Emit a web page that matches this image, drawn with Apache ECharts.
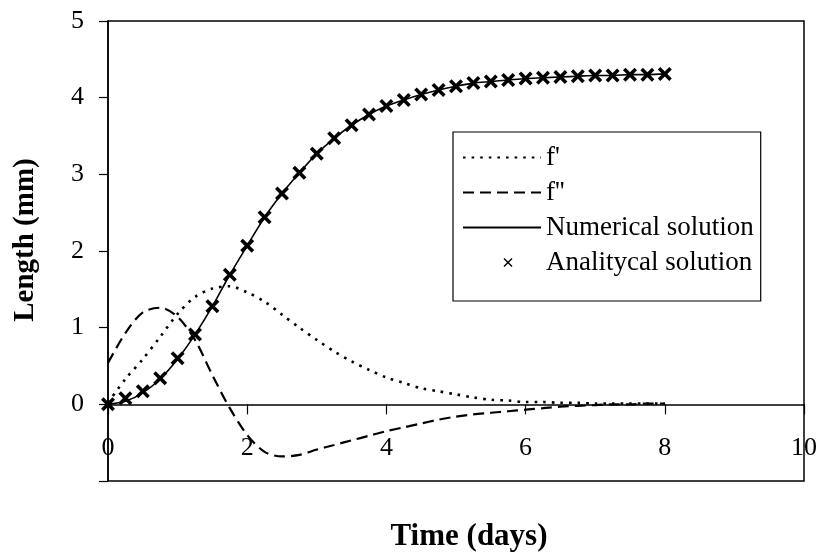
<!DOCTYPE html>
<html>
<head>
<meta charset="utf-8">
<title>Length vs time</title>
<script src="https://cdn.jsdelivr.net/npm/echarts@6/dist/echarts.min.js"></script>
<style>
  html, body { margin: 0; padding: 0; background: #fff; }
  #chart { width: 816px; height: 552px; }
</style>
</head>
<body>
<div id="chart"></div>
<script>
// Time in days, sampled every quarter day
const days = [0, 0.25, 0.5, 0.75, 1, 1.25, 1.5, 1.75, 2, 2.25, 2.5, 2.75, 3, 3.25, 3.5, 3.75,
              4, 4.25, 4.5, 4.75, 5, 5.25, 5.5, 5.75, 6, 6.25, 6.5, 6.75, 7, 7.25, 7.5, 7.75, 8];

// First derivative f'
const fPrime = [0.02, 0.33, 0.59, 0.88, 1.18, 1.40, 1.51, 1.54, 1.46, 1.34, 1.17, 1.00, 0.84, 0.69, 0.56, 0.45,
                0.35, 0.28, 0.21, 0.17, 0.13, 0.09, 0.06, 0.05, 0.03, 0.03, 0.02, 0.02, 0.01, 0.01, 0.01, 0.01, 0.01];

// Second derivative f''
const fSecond = [0.54, 0.93, 1.20, 1.26, 1.14, 0.84, 0.38, -0.05, -0.40, -0.62, -0.68, -0.66, -0.59, -0.53, -0.47, -0.41,
                 -0.35, -0.30, -0.25, -0.20, -0.16, -0.13, -0.11, -0.09, -0.07, -0.05, -0.03, -0.02, -0.01, 0.00, 0.00, 0.01, 0.01];

// Numerical solution (mm)
const numerical = [0.00, 0.04, 0.15, 0.33, 0.59, 0.91, 1.28, 1.69, 2.07, 2.44, 2.75, 3.02, 3.27, 3.47, 3.64, 3.78,
                   3.89, 3.97, 4.04, 4.10, 4.15, 4.19, 4.21, 4.23, 4.25, 4.26, 4.27, 4.28, 4.29, 4.29, 4.30, 4.30, 4.31];

// Analytical solution (mm)
const analytical = [0.00, 0.08, 0.17, 0.34, 0.60, 0.91, 1.28, 1.69, 2.07, 2.44, 2.75, 3.02, 3.27, 3.47, 3.64, 3.78,
                    3.89, 3.97, 4.04, 4.10, 4.15, 4.19, 4.21, 4.23, 4.25, 4.26, 4.27, 4.28, 4.29, 4.29, 4.30, 4.30, 4.31];

const xTicks = [0, 2, 4, 6, 8, 10];
const yTicks = [0, 1, 2, 3, 4, 5];

const pairs = (ys) => days.map((d, i) => [d, ys[i]]);

const FONT = 'Liberation Serif';
const crossSymbol = 'path://M0,1.8 L1.8,0 L5,3.2 L8.2,0 L10,1.8 L6.8,5 L10,8.2 L8.2,10 L5,6.8 L1.8,10 L0,8.2 L3.2,5 Z';
// legend icon: small cross centred in a wide, invisible bounding box
const crossLegendIcon = 'path://M0,0 L0.01,0 Z M78,14 L78.01,14 Z M40.5,3.6 L41.5,2.6 L45,6 L48.5,2.6 L49.5,3.6 L46,7 L49.5,10.4 L48.5,11.4 L45,8 L41.5,11.4 L40.5,10.4 L44,7 Z';

const chart = echarts.init(document.getElementById('chart'), null, { renderer: 'canvas' });

chart.setOption({
  backgroundColor: '#fff',
  animation: false,
  textStyle: { fontFamily: FONT, color: '#000' },
  grid: {
    left: 108, right: 12, top: 21, bottom: 71,
    outerBoundsMode: 'none',
    containLabel: false,
    show: true, borderColor: '#000', borderWidth: 1.5, backgroundColor: 'transparent'
  },
  legend: {
    orient: 'vertical',
    left: 453, top: 132,
    padding: [12, 7, 25, 9],
    itemGap: 8,
    itemWidth: 78, itemHeight: 14,
    borderColor: '#000', borderWidth: 1.2,
    backgroundColor: '#fff',
    textStyle: { fontFamily: FONT, fontSize: 27, color: '#000' },
    data: [
      { name: "f'", itemStyle: { opacity: 0 } },
      { name: "f''", itemStyle: { opacity: 0 } },
      { name: 'Numerical solution', itemStyle: { opacity: 0 } },
      { name: 'Analitycal solution', icon: crossLegendIcon, itemStyle: { color: '#000', opacity: 1 } }
    ]
  },
  xAxis: {
    type: 'value',
    min: 0, max: 10, interval: 2,
    name: 'Time (days)',
    nameLocation: 'middle',
    nameGap: 40,
    nameTextStyle: { fontFamily: FONT, fontSize: 31, fontWeight: 'bold', color: '#000', padding: [0, 0, 0, 26] },
    axisLine: { onZero: true, lineStyle: { color: '#000', width: 1.5 } },
    axisTick: { show: true, inside: false, length: 10, lineStyle: { color: '#000', width: 1.2 } },
    axisLabel: {
      margin: -46, fontFamily: FONT, fontSize: 26, color: '#000',
      formatter: (v) => (xTicks.includes(v) ? String(v) : '')
    },
    splitLine: { show: false }
  },
  yAxis: {
    type: 'value',
    min: -1, max: 5, interval: 1,
    name: 'Length (mm)',
    nameLocation: 'middle',
    nameRotate: 90,
    nameGap: 68,
    nameTextStyle: { fontFamily: FONT, fontSize: 29, fontWeight: 'bold', color: '#000', padding: [0, 0, 0, 22] },
    axisLine: { show: true, onZero: false, lineStyle: { color: '#000', width: 1.5 } },
    axisTick: { show: true, inside: false, length: 9, lineStyle: { color: '#000', width: 1.2 } },
    axisLabel: {
      margin: 24, fontFamily: FONT, fontSize: 26, color: '#000',
      formatter: (v) => (yTicks.includes(v) ? String(v) : '')
    },
    splitLine: { show: false }
  },
  series: [
    {
      name: "f'",
      type: 'line',
      data: pairs(fPrime),
      smooth: 0.3,
      symbol: 'none',
      itemStyle: { color: '#000' },
      lineStyle: { color: '#000', width: 2.6, type: [2.6, 6] },
      z: 2
    },
    {
      name: "f''",
      type: 'line',
      data: pairs(fSecond),
      smooth: 0.3,
      symbol: 'none',
      itemStyle: { color: '#000' },
      lineStyle: { color: '#000', width: 2.2, type: [11, 6] },
      z: 2
    },
    {
      name: 'Numerical solution',
      type: 'line',
      data: pairs(numerical),
      smooth: 0.3,
      symbol: 'none',
      itemStyle: { color: '#000' },
      lineStyle: { color: '#000', width: 1.6, type: 'solid' },
      z: 3
    },
    {
      name: 'Analitycal solution',
      type: 'scatter',
      data: pairs(analytical),
      symbol: crossSymbol,
      symbolSize: 14,
      itemStyle: { color: '#000', opacity: 1 },
      z: 4
    }
  ]
});
</script>
</body>
</html>
